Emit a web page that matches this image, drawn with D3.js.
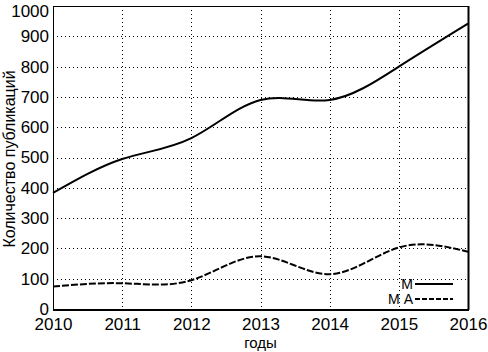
<!DOCTYPE html>
<html>
<head>
<meta charset="utf-8">
<script src="https://cdn.jsdelivr.net/npm/d3@7"></script>
<style>
  body { margin: 0; background: #fff; }
  svg text { font-family: "Liberation Sans", Arial, sans-serif; fill: #000; }
</style>
</head>
<body>
<div id="chart-area"></div>
<script>
// data
const years = [2010, 2011, 2012, 2013, 2014, 2015, 2016];
const seriesM = [383, 495, 564, 690, 690, 800, 942];
const seriesMA = [74, 85, 95, 174, 115, 203, 189];
const yTicks = [0, 100, 200, 300, 400, 500, 600, 700, 800, 900, 1000];
const legendNames = ["М", "М А"];

let margin = {top: 6, right: 20, bottom: 43, left: 53};
let width = 488 - margin.left - margin.right;
let height = 352 - margin.top - margin.bottom;

const svg = d3.select("div#chart-area").append("svg")
    .attr("width", 488)
    .attr("height", 352)
    .append("g")
    .attr("transform", "translate(" + margin.left + "," + margin.top + ")");

const xScale = d3.scaleLinear().domain([2010, 2016]).range([0, width]);
const yScale = d3.scaleLinear().domain([0, 1000]).range([height, 0]);

// dotted grid
svg.append("g")
    .selectAll("line.gx")
    .data(years.slice(1, -1))
    .enter().append("line")
    .attr("x1", d => Math.round(xScale(d)) + 0.5).attr("x2", d => Math.round(xScale(d)) + 0.5)
    .attr("y1", 0).attr("y2", height)
    .style("stroke", "#000").style("stroke-dasharray", "1,3");

svg.append("g")
    .selectAll("line.gy")
    .data(yTicks.slice(1, -1))
    .enter().append("line")
    .attr("x1", 0).attr("x2", width)
    .attr("y1", d => Math.round(yScale(d)) + 0.5).attr("y2", d => Math.round(yScale(d)) + 0.5)
    .style("stroke", "#000").style("stroke-dasharray", "1,3");

// frame
svg.append("rect")
    .attr("x", 0.5).attr("y", 0.5)
    .attr("width", width).attr("height", height)
    .style("fill", "none").style("stroke", "#000").style("stroke-width", 1);
svg.append("line")
    .attr("x1", width + 0.5).attr("x2", width + 0.5).attr("y1", 0).attr("y2", height + 1)
    .style("stroke", "#000").style("stroke-width", 2);
svg.append("line")
    .attr("x1", 0).attr("x2", width + 1).attr("y1", height + 1).attr("y2", height + 1)
    .style("stroke", "#000").style("stroke-width", 2);

// axes
const xAxis = d3.axisBottom(xScale).tickValues(years).tickFormat(d3.format("d")).tickSize(0).tickPadding(9);
const yAxis = d3.axisLeft(yScale).tickValues(yTicks).tickFormat(d3.format("d")).tickSize(0).tickPadding(4);

const gx = svg.append("g")
    .attr("transform", "translate(0," + height + ")")
    .call(xAxis);
gx.select(".domain").remove();
gx.selectAll("text").style("font-size", "17px");

const gy = svg.append("g").call(yAxis);
gy.select(".domain").remove();
gy.selectAll("text").style("font-size", "17px");
// keep the top label inside the picture
gy.selectAll("text").filter(d => d === 1000).attr("dy", "0.6em");

// axis labels
svg.append("text")
    .attr("text-anchor", "middle")
    .attr("x", width / 2)
    .attr("y", height + 39)
    .style("font-size", "15px")
    .text("годы");

svg.append("text")
    .attr("text-anchor", "middle")
    .attr("transform", "rotate(-90)")
    .attr("x", -height / 2 - 1.5)
    .attr("y", -margin.left + 15)
    .style("font-size", "16px")
    .text("Количество публикаций");

// curves
const line = d3.line()
    .x((d, i) => xScale(years[i]))
    .y(d => yScale(d))
    .curve(d3.curveNatural);

svg.append("path")
    .attr("d", line(seriesM))
    .style("fill", "none").style("stroke", "#000").style("stroke-width", 2);

svg.append("path")
    .attr("d", line(seriesMA))
    .style("fill", "none").style("stroke", "#000").style("stroke-width", 2)
    .style("stroke-dasharray", "7,2");

// legend
const legend = svg.append("g").attr("transform", "translate(" + (413 - margin.left) + "," + (284 - margin.top) + ")");
legendNames.forEach((name, i) => {
    legend.append("text")
        .attr("x", 0).attr("y", i * 15 + 5)
        .attr("text-anchor", "end")
        .style("font-size", "14px")
        .text(name);
    legend.append("line")
        .attr("x1", 2).attr("x2", 40)
        .attr("y1", i * 15).attr("y2", i * 15)
        .style("stroke", "#000").style("stroke-width", 2)
        .style("stroke-dasharray", i === 0 ? null : "5,2");
});
</script>
</body>
</html>
